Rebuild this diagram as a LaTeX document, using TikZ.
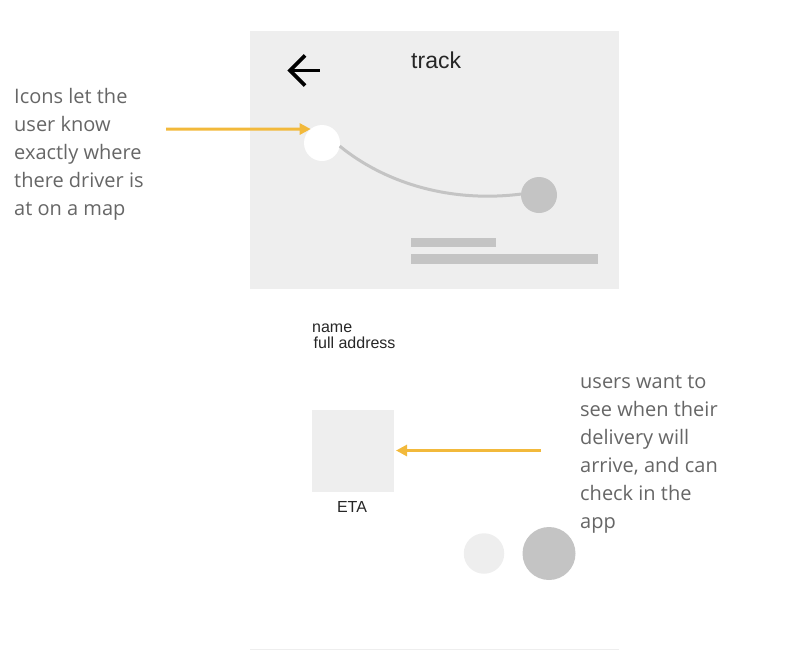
\documentclass[tikz,border=0pt]{standalone}
\usepackage{fontspec}
\setmainfont{Liberation Sans}
\newfontfamily\notefont{Open Sans}
\usetikzlibrary{positioning,arrows.meta}
\definecolor{panelgray}{HTML}{EEEEEE}
\definecolor{markgray}{HTML}{C4C4C4}
\definecolor{flowyellow}{HTML}{F2B93B}
\definecolor{notegray}{HTML}{666666}
\tikzset{%
panel/.style={fill=panelgray,inner sep=0,outer sep=0},
dot/.style={circle,inner sep=0,outer sep=0,minimum size=#1},
bar/.style={fill=markgray,inner sep=0,outer sep=0,minimum height=9.5pt},
note/.style={align=left,inner sep=0,text=notegray,font=\notefont\fontsize{20}{28}\selectfont},
uitext/.style={inner sep=0,text=black!85,font=\fontsize{#1}{#1}\selectfont},
flow/.style={draw=flowyellow,line width=3pt,-{Triangle[length=11pt,width=11pt]}},
route/.style={draw=markgray,line width=3pt},
backicon/.style={draw=black,line width=3.8pt}
}

\begin{document}
\begin{tikzpicture}[x=1pt,y=-1pt]

    \useasboundingbox (0,0) rectangle (800,664);

    \node[panel,minimum width=369pt,minimum height=258pt] (map) at (434.5,160) {};
    \node[uitext=23,anchor=base west] (title) at (411,68) {track};

    \coordinate (backtip) at (290,70.5);
    \coordinate (backtail) at (320,70.5);
    \coordinate (backup) at (305,55.5);
    \coordinate (backdown) at (305,85.5);
    \path[backicon] (backup) -- (backtip) -- (backdown);
    \path[backicon] (backtip) -- (backtail);

    \node[dot=36pt,fill=white] (startdot) at (322,143) {};
    \node[dot=36pt,fill=markgray] (enddot) at (539,195) {};
    \path[route] (startdot.-10) .. controls (385,183) and (450,203) .. (enddot.177);

    \node[bar,minimum width=84.5pt] (barshort) at (453.25,242.5) {};
    \node[bar,minimum width=187pt] (barlong) at (504.5,259) {};

    \node[uitext=16,anchor=base west] (name) at (312,332) {name};
    \node[uitext=16,anchor=base west] (address) at (313.5,348) {full address};

    \node[panel,minimum size=82pt] (etabox) at (353,450.5) {};
    \node[uitext=16,anchor=base] (eta) at (352,512) {ETA};

    \node[dot=40.5pt,fill=panelgray] (lightdot) at (484,553.5) {};
    \node[dot=53pt,fill=markgray] (darkdot) at (549,553.5) {};

    \node[panel,minimum width=369pt,minimum height=1pt] (divider) at (434.5,649.5) {};

    \node[note,anchor=north west] (iconsnote) at (14,88) {Icons let the\\user know\\exactly where\\there driver is\\at on a map};
    \node[note,anchor=north west] (etanote) at (580,375) {users want to\\see when their\\delivery will\\arrive, and can\\check in the\\app};

    \coordinate (iconsfrom) at (166,129.2);
    \coordinate (etafrom) at (541,450.5);
    \path[flow] (iconsfrom) -- (startdot.129.5);
    \path[flow,shorten >=2pt] (etafrom) -- (etabox.east);

\end{tikzpicture}
\end{document}
